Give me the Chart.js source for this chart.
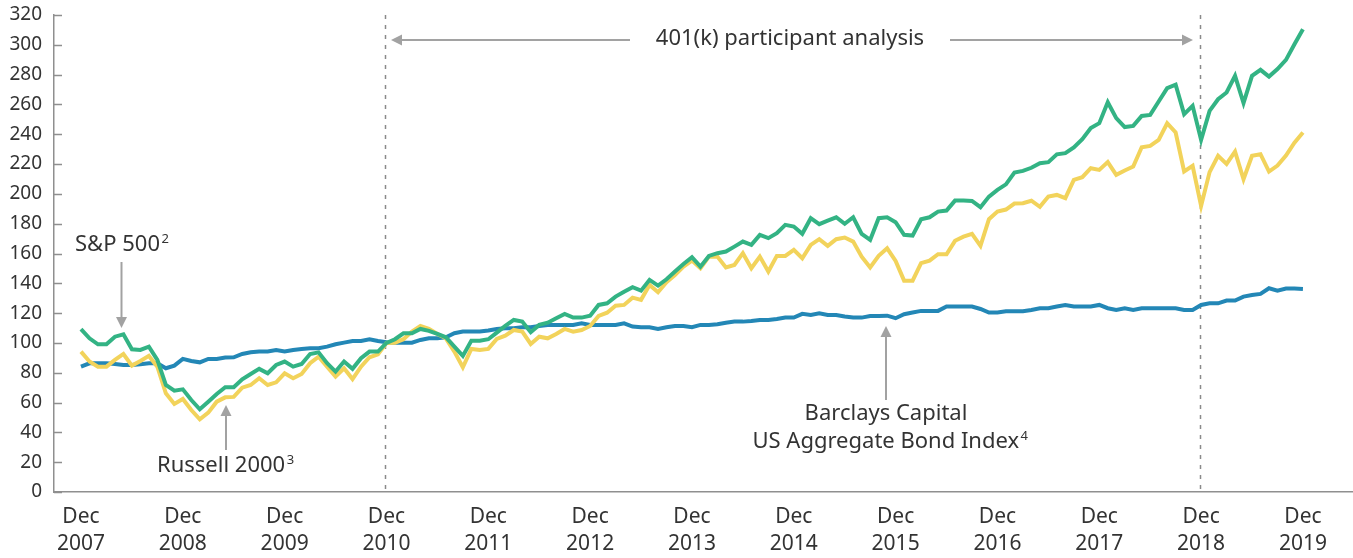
<!DOCTYPE html>
<html><head><meta charset="utf-8">
<script src="https://cdn.jsdelivr.net/npm/chart.js@4/dist/chart.umd.min.js"></script>
<style>html,body{margin:0;padding:0;background:#fff;}#wrap{width:1353px;height:558px;position:relative;}</style>
</head><body><div id="wrap"><canvas id="c" width="1353" height="558"></canvas></div>
<script>
// ---- Data (monthly, Dec 2007 .. Dec 2019, indexed) ----
const monthNames = ["Dec","Jan","Feb","Mar","Apr","May","Jun","Jul","Aug","Sep","Oct","Nov"];
const categories = [];
for (let i = 0; i <= 144; i++) {
  categories.push(monthNames[i % 12] + " " + (2007 + Math.ceil(i / 12)));
}
const tickMonths = [0,12,24,36,48,60,72,84,96,108,120,132,144];
const tickYears = ["2007","2008","2009","2010","2011","2012","2013","2014","2015","2016","2017","2018","2019"];
const yTicks = [0,20,40,60,80,100,120,140,160,180,200,220,240,260,280,300,320];
const markerMonths = [36, 132];

const sp500 = [
109.2,103.1,99.1,99.1,104.2,105.8,95.7,95.3,97.5,88.6,71.8,68.0,
68.9,61.7,55.5,60.6,65.8,70.3,70.3,75.6,79.2,82.6,79.7,85.2,
87.5,84.1,85.9,92.6,93.7,86.4,80.8,87.5,82.6,89.7,94.2,94.2,
100.0,102.5,106.5,106.5,109.4,108.1,106.0,103.8,97.5,91.3,101.5,101.5,
102.5,106.9,111.4,115.4,114.3,107.2,112.1,113.6,116.6,119.5,117.0,117.0,
118.3,125.5,126.6,131.1,134.4,137.4,135.1,142.3,138.5,142.7,147.9,153.0,
157.5,151.2,158.4,160.2,161.3,164.6,168.0,165.8,172.5,170.3,173.6,179.2,
178.1,173.2,183.7,179.7,182.1,184.3,179.9,184.3,173.2,169.1,183.7,184.3,
181.0,172.5,172.0,183.0,184.3,188.1,188.8,195.5,195.5,195.3,191.1,198.2,
202.7,206.4,214.3,215.4,217.5,220.6,221.3,226.5,227.3,231.1,236.7,244.1,
247.4,261.5,250.8,244.8,245.6,252.3,253.0,262.0,270.9,273.2,253.5,259.1,
236.2,255.7,263.5,268.0,279.2,260.9,279.2,283.2,278.7,283.7,289.9,300.4,
310.5];

const russell2000 = [
94.2,87.5,84.1,84.1,88.6,92.6,84.8,87.9,91.3,84.1,66.2,59.1,
62.4,55.0,48.8,53.2,60.6,63.5,63.8,70.0,71.8,76.3,71.8,73.6,
79.6,76.3,79.2,86.4,90.8,84.1,77.4,83.0,75.8,84.1,90.4,92.4,
100.0,100.2,102.5,107.6,111.4,109.4,106.0,103.1,94.2,83.7,96.0,95.3,
96.0,102.7,104.9,108.7,107.6,99.3,104.2,103.1,106.0,109.4,107.6,108.7,
111.4,118.1,120.3,125.0,125.5,130.4,128.9,138.9,134.0,140.7,145.6,151.2,
155.3,150.1,158.0,157.9,150.6,152.3,160.2,150.1,157.9,147.9,158.4,158.4,
162.4,156.8,165.8,169.6,165.1,169.6,170.7,168.0,157.9,150.6,158.4,163.5,
155.0,141.8,141.8,153.5,155.2,159.5,159.5,168.5,171.3,173.2,165.1,183.0,
188.1,189.5,193.5,193.7,195.4,191.3,198.2,199.3,197.1,209.4,211.2,217.2,
216.1,221.3,212.8,215.7,218.3,231.3,232.2,236.2,247.4,241.2,215.0,218.8,
191.9,214.6,225.5,220.1,228.4,209.8,225.5,226.6,215.0,219.0,225.7,234.4,
241.2];

const barclaysAgg = [
84.1,86.3,86.3,86.3,85.9,85.2,85.2,85.7,86.3,86.3,83.0,84.8,
89.3,87.9,87.0,89.3,89.3,90.2,90.4,92.6,93.7,94.2,94.2,95.3,
94.2,95.3,96.0,96.4,96.4,97.5,99.1,100.2,101.3,101.3,102.4,101.3,
100.4,100.2,100.2,100.2,102.0,103.1,103.1,103.8,106.5,107.6,107.6,107.6,
108.3,109.4,109.8,109.8,110.5,110.5,111.4,112.1,112.1,112.1,112.1,113.2,
112.1,112.1,112.1,112.1,113.2,111.0,110.5,110.5,109.4,110.5,111.4,111.4,
110.5,112.1,112.1,112.6,113.6,114.3,114.3,114.7,115.4,115.4,116.1,117.0,
117.0,119.5,118.8,119.9,118.8,118.8,117.7,117.0,117.0,118.1,118.1,118.3,
116.6,119.3,120.4,121.5,121.5,121.5,124.4,124.4,124.4,124.4,122.8,120.4,
120.4,121.2,121.2,121.2,122.1,123.3,123.3,124.4,125.5,124.4,124.4,124.4,
125.5,123.3,122.1,123.3,122.1,123.3,123.3,123.3,123.3,123.3,122.1,122.1,
125.5,126.6,126.6,128.4,128.4,131.1,132.2,132.9,136.7,135.1,136.5,136.5,
136.2];

// ---- Styles ----
const FONT = "'Noto Sans', 'DejaVu Sans', sans-serif";
const TEXT = "#333333";
const AXIS = "#8f8f8f";
const ARROW = "#a2a2a2";
const GREEN = "#33b384";
const YELLOW = "#f2d35b";
const BLUE = "#2387b6";

function toPoints(arr) { return arr.map((v, i) => ({ x: i, y: v })); }

function arrow(ctx, x1, y1, x2, y2) {
  const ang = Math.atan2(y2 - y1, x2 - x1);
  const hl = 11, hw = 5.5;
  const bx = x2 - hl * Math.cos(ang), by = y2 - hl * Math.sin(ang);
  ctx.beginPath(); ctx.moveTo(x1, y1); ctx.lineTo(bx, by); ctx.stroke();
  ctx.beginPath();
  ctx.moveTo(x2, y2);
  ctx.lineTo(bx + hw * Math.sin(ang), by - hw * Math.cos(ang));
  ctx.lineTo(bx - hw * Math.sin(ang), by + hw * Math.cos(ang));
  ctx.closePath(); ctx.fill();
}

function textSup(ctx, str, sup, x, y, align) {
  ctx.font = "22px " + FONT;
  const w = ctx.measureText(str).width;
  ctx.font = "13px " + FONT;
  const ws = sup ? ctx.measureText(sup).width + 1 : 0;
  let left = x;
  if (align === "center") left = x - (w + ws) / 2;
  ctx.textAlign = "left";
  ctx.font = "22px " + FONT;
  ctx.fillText(str, left, y);
  if (sup) { ctx.font = "13px " + FONT; ctx.fillText(sup, left + w + 1.5, y - 6); }
}

const decor = {
  id: "decor",
  beforeDatasetsDraw(chart) {
    const { ctx, chartArea: a, scales: { x, y } } = chart;
    ctx.save();
    ctx.strokeStyle = AXIS; ctx.lineWidth = 1.5;
    yTicks.forEach(v => {
      const py = Math.round(y.getPixelForValue(v)) + 0.5;
      ctx.beginPath(); ctx.moveTo(a.left, py); ctx.lineTo(a.left + 8, py); ctx.stroke();
    });
    ctx.strokeStyle = "#8a8a8a"; ctx.lineWidth = 1.5; ctx.setLineDash([4, 6]);
    markerMonths.forEach(m => {
      const px = Math.round(x.getPixelForValue(m)) - 0.5;
      ctx.beginPath(); ctx.moveTo(px, a.top); ctx.lineTo(px, a.bottom); ctx.stroke();
    });
    ctx.restore();
  },
  afterDatasetsDraw(chart) {
    const { ctx } = chart;
    ctx.save();
    ctx.strokeStyle = ARROW; ctx.fillStyle = ARROW; ctx.lineWidth = 2;
    arrow(ctx, 121.5, 262, 121.5, 328);
    arrow(ctx, 226, 450, 226, 405);
    arrow(ctx, 886, 400, 886, 326);
    arrow(ctx, 630, 40, 391, 40);
    arrow(ctx, 950, 40, 1193, 40);
    ctx.fillStyle = TEXT; ctx.textBaseline = "middle";
    textSup(ctx, "S&P 500", "2", 75, 245, "left");
    textSup(ctx, "Russell 2000", "3", 157, 466, "left");
    textSup(ctx, "401(k) participant analysis", "", 790, 39, "center");
    textSup(ctx, "Barclays Capital", "", 886, 414, "center");
    textSup(ctx, "US Aggregate Bond Index", "4", 890, 442, "center");
    ctx.restore();
  }
};

new Chart(document.getElementById("c"), {
  type: "line",
  data: {
    datasets: [
      { label: "Barclays Capital US Aggregate Bond Index", data: toPoints(barclaysAgg), borderColor: BLUE, borderWidth: 4, pointRadius: 0, tension: 0, order: 3 },
      { label: "Russell 2000", data: toPoints(russell2000), borderColor: YELLOW, borderWidth: 4, pointRadius: 0, tension: 0, order: 2 },
      { label: "S&P 500", data: toPoints(sp500), borderColor: GREEN, borderWidth: 4, pointRadius: 0, tension: 0, order: 1 }
    ]
  },
  options: {
    responsive: false, animation: false, devicePixelRatio: 1,
    layout: { padding: { top: 15, right: 0, left: 0, bottom: 0 } },
    plugins: { legend: { display: false }, tooltip: { enabled: false } },
    scales: {
      x: {
        type: "linear", min: -3.18, max: 149.9,
        afterBuildTicks: s => { s.ticks = tickMonths.map(v => ({ value: v })); },
        afterFit: s => { s.height = 66; s.paddingLeft = 0; s.paddingRight = 0; },
        grid: { display: false, drawTicks: false },
        border: { display: true, color: AXIS, width: 1.5 },
        ticks: {
          autoSkip: false, maxRotation: 0, padding: 11, color: TEXT,
          font: { family: FONT, size: 21, lineHeight: 1.3 },
          callback: v => { const k = tickMonths.indexOf(v); return k >= 0 ? ["Dec", tickYears[k]] : ""; }
        }
      },
      y: {
        min: 0, max: 320,
        afterBuildTicks: s => { s.ticks = yTicks.map(v => ({ value: v })); },
        afterFit: s => { s.width = 54; s.paddingTop = 0; s.paddingBottom = 0; },
        grid: { display: false, drawTicks: false },
        border: { display: true, color: AXIS, width: 1.5 },
        ticks: { padding: 12, color: TEXT, font: { family: FONT, size: 19 } }
      }
    }
  },
  plugins: [decor]
});
</script></body></html>
